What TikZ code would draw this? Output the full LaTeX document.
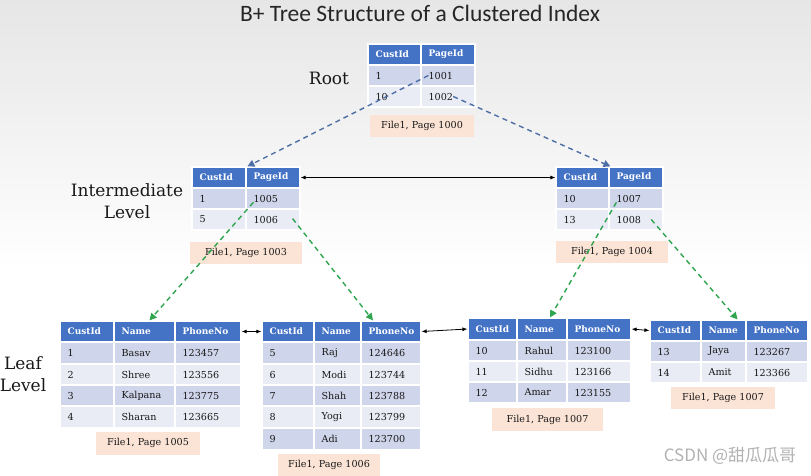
\documentclass[tikz,border=0pt]{standalone}
\usepackage{fontspec}
\setmainfont{DejaVu Serif}
\newfontfamily\titlefont{Carlito}
\newfontfamily\cjkfont{Noto Sans CJK SC}
\usetikzlibrary{fit,arrows.meta}
\definecolor{hdrblue}{HTML}{4472C4}
\definecolor{rowodd}{HTML}{CFD5EA}
\definecolor{roweven}{HTML}{E9EBF5}
\definecolor{peach}{HTML}{FBE4D5}
\definecolor{dashblue}{HTML}{4E6FA6}
\definecolor{dashgreen}{HTML}{2EA54E}
\definecolor{bgtop}{HTML}{E6E6E6}
\tikzset{
  cellbox/.style={inner sep=0pt, draw=white, line width=1.2pt},
  hdr/.style={fill=hdrblue},
  hdrtxt/.style={font=\fontsize{9}{10}\selectfont\bfseries, text=white, inner sep=0pt},
  rowA/.style={fill=rowodd},
  rowAtxt/.style={font=\fontsize{9.6}{11}\selectfont, text=black!90, inner sep=0pt},
  rowB/.style={fill=roweven},
  rowBtxt/.style={rowAtxt},
  pagelbl/.style={fill=peach, inner sep=0pt, minimum height=22pt, font=\fontsize{9.6}{11}\selectfont, text=black!90},
  lvltxt/.style={font=\fontsize{17}{22}\selectfont, align=center, text=black!90},
  treeptr/.style={dash pattern=on 5pt off 4pt, line width=1.4pt, -{Triangle[length=7pt,width=7pt]}},
  sibling/.style={{Latex[length=5pt,width=4pt]}-{Latex[length=5pt,width=4pt]}, line width=0.8pt, black}
}
\newcommand\trow[5]{%
  \foreach \xa/\xb/\tx [count=\ci] in {#5}{%
    \node[cellbox,#4,fit={(\xa,#2) (\xb,#3)}] (#1c\ci) {};
    \node[#4txt, anchor=west] (#1t\ci) at ([xshift=8pt]#1c\ci.west) {\tx};
  }}
\begin{document}
\begin{tikzpicture}[x=1pt,y=-1pt]
\useasboundingbox (0,0) rectangle (811,475);
\fill[white] (0,0) rectangle (811,475);
\shade[top color=bgtop, bottom color=white] (0,0) rectangle (811,270);

\node[font=\titlefont\fontsize{23.5}{26}\selectfont, text=black!85] (title) at (420,13) {B+ Tree Structure of a Clustered Index};

% Root
\trow{root0}{44}{65}{hdr}{368/421/CustId,421/475/PageId}
\trow{root1}{65}{86}{rowA}{368/421/1,421/475/1001}
\trow{root2}{86}{107}{rowB}{368/421/10,421/475/1002}
\node[pagelbl, minimum width=104pt] (rootlbl) at (422,126) {File1, Page 1000};
\node[lvltxt] (rootname) at (329,78) {Root};

% Intermediate left
\trow{li0}{167}{188}{hdr}{192/246/CustId,246/300/PageId}
\trow{li1}{188}{209}{rowA}{192/246/1,246/300/1005}
\trow{li2}{209}{230}{rowB}{192/246/5,246/300/1006}
\node[pagelbl, minimum width=112pt] (lilbl) at (246,253) {File1, Page 1003};
\node[lvltxt] (intname) at (127,201) {Intermediate\\Level};

% Intermediate right
\trow{ri0}{167}{188}{hdr}{556/609/CustId,609/663/PageId}
\trow{ri1}{188}{209}{rowA}{556/609/10,609/663/1007}
\trow{ri2}{209}{230}{rowB}{556/609/13,609/663/1008}
\node[pagelbl, minimum width=112pt] (rilbl) at (612,251.5) {File1, Page 1004};

% Leaf 1
\trow{l10}{321}{342}{hdr}{60/114/CustId,114/175/Name,175/241/PhoneNo}
\trow{l11}{342}{364}{rowA}{60/114/1,114/175/Basav,175/241/123457}
\trow{l12}{364}{385}{rowB}{60/114/2,114/175/Shree,175/241/123556}
\trow{l13}{385}{406}{rowA}{60/114/3,114/175/Kalpana,175/241/123775}
\trow{l14}{406}{428}{rowB}{60/114/4,114/175/Sharan,175/241/123665}
\node[pagelbl, minimum width=104pt, minimum height=23pt] (l1lbl) at (148,443) {File1, Page 1005};
\node[lvltxt] (leafname) at (23,374) {Leaf\\Level};

% Leaf 2
\trow{l20}{321}{342}{hdr}{262/314/CustId,314/361/Name,361/421/PhoneNo}
\trow{l21}{342}{364}{rowA}{262/314/5,314/361/Raj,361/421/124646}
\trow{l22}{364}{385}{rowB}{262/314/6,314/361/Modi,361/421/123744}
\trow{l23}{385}{406}{rowA}{262/314/7,314/361/Shah,361/421/123788}
\trow{l24}{406}{428}{rowB}{262/314/8,314/361/Yogi,361/421/123799}
\trow{l25}{428}{450}{rowA}{262/314/9,314/361/Adi,361/421/123700}
\node[pagelbl, minimum width=102pt] (l2lbl) at (329,465) {File1, Page 1006};

% Leaf 3
\trow{l30}{318}{340}{hdr}{468/517/CustId,517/567/Name,567/631/PhoneNo}
\trow{l31}{340}{361}{rowA}{468/517/10,517/567/Rahul,567/631/123100}
\trow{l32}{361}{382}{rowB}{468/517/11,517/567/Sidhu,567/631/123166}
\trow{l33}{382}{403}{rowA}{468/517/12,517/567/Amar,567/631/123155}
\node[pagelbl, minimum width=111pt, minimum height=23pt] (l3lbl) at (547.5,419.5) {File1, Page 1007};

% Leaf 4
\trow{l40}{320}{341}{hdr}{650/701/CustId,701/746/Name,746/808/PhoneNo}
\trow{l41}{341}{362}{rowA}{650/701/13,701/746/Jaya,746/808/123267}
\trow{l42}{362}{383}{rowB}{650/701/14,701/746/Amit,746/808/123366}
\node[pagelbl, minimum width=104pt] (l4lbl) at (723,398) {File1, Page 1007};

% pointers root -> intermediate
\draw[treeptr, dashblue] (root1t2.west) -- ([xshift=2pt]li0c2.north west);
\draw[treeptr, dashblue] (root2t2.east) -- ([xshift=2pt]ri0c2.north west);

% pointers intermediate -> leaf
\draw[treeptr, dashgreen] (li1t2.south west) -- ([xshift=5pt]l10c2.north);
\draw[treeptr, dashgreen] ([xshift=-8pt,yshift=12pt]li2c2.south east) -- ([xshift=-18pt]l20c3.north);
\draw[treeptr, dashgreen] (ri1t2.south west) -- ([xshift=8pt]l30c2.north);
\draw[treeptr, dashgreen] ([xshift=10pt]ri2t2.east) -- ([xshift=14pt]l40c2.north);

% sibling links
\draw[sibling] (li0c2.east) -- (ri0c1.west);
\draw[sibling] (l10c3.east) -- (l20c1.west);
\draw[sibling] (l20c3.east) -- (l30c1.west);
\draw[sibling] (l30c3.east) -- (l40c1.west);

\node[font=\cjkfont\fontsize{17}{19}\selectfont, text=black!30] (wm) at (730,456) {CSDN @甜瓜瓜哥};
\end{tikzpicture}
\end{document}
